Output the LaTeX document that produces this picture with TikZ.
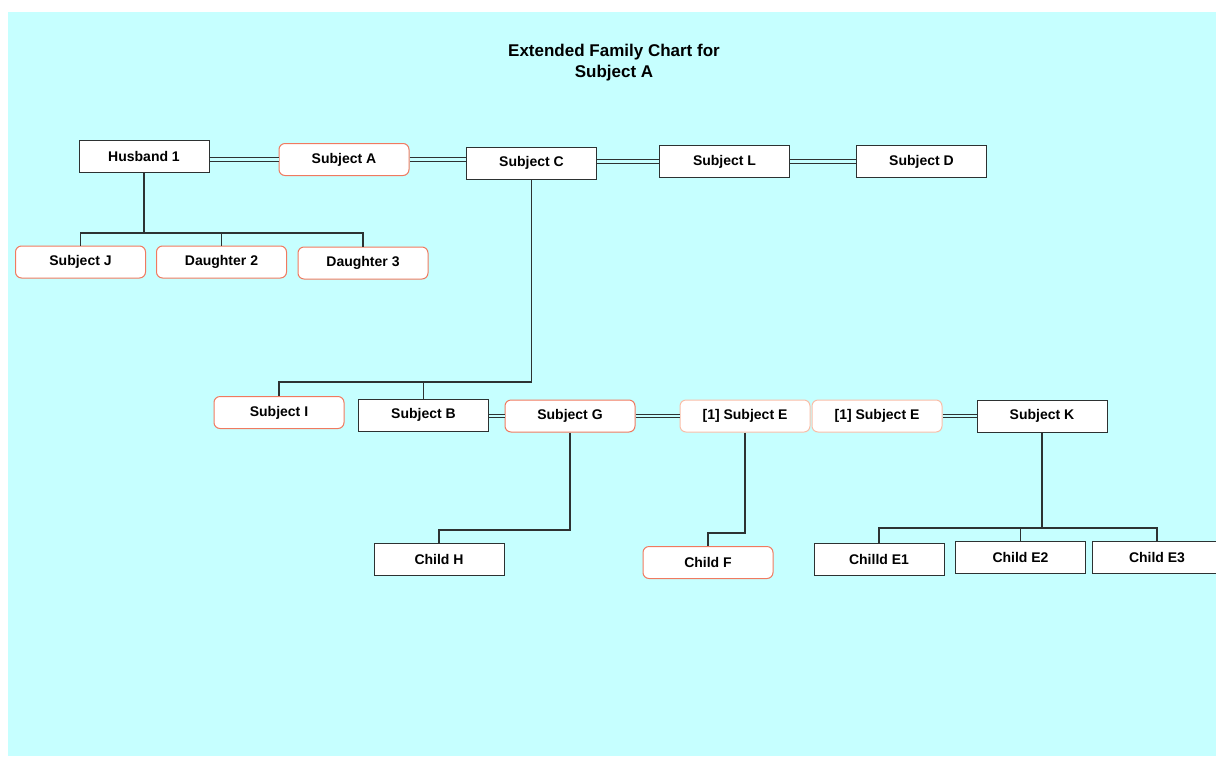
\documentclass[tikz,border=0pt]{standalone}
\usepackage{fontspec}
\setmainfont{Liberation Sans}
\usepackage{xcolor}
\definecolor{chartbg}{RGB}{198,255,255}
\definecolor{bloodline}{RGB}{240,122,96}
\definecolor{paleline}{RGB}{250,190,168}
\definecolor{linkgray}{RGB}{45,50,50}

\tikzset{
    member/.style={draw=linkgray, fill=white, line width=1pt, minimum width=130pt, minimum height=32pt,
        inner sep=0pt, font=\fontsize{14}{16}\selectfont\bfseries},
    blood/.style={member, draw=bloodline, rounded corners=6pt},
    pale/.style={member, draw=paleline, rounded corners=6pt},
    marriage/.style={draw=linkgray, double=chartbg, double distance=2.6pt, line width=0.9pt},
    descent/.style={draw=linkgray, line width=1.1pt}
}

\begin{document}
\begin{tikzpicture}[x=1pt,y=-1pt]
    	\useasboundingbox (0,0) rectangle (1216,756);
    	\fill[chartbg] (8,12) rectangle (1216,756);
    	\node[font=\fontsize{17}{21}\selectfont\bfseries, align=center] (title) at (614,63) {Extended Family Chart for\\Subject A};

    	% first generation
    	\node[member] (husband) at (144,156) {Husband 1};
    	\node[blood] (subjA) at (344,159.5) {Subject A};
    	\node[member] (subjC) at (531.5,163) {Subject C};
    	\node[member] (subjL) at (724.5,161.5) {Subject L};
    	\node[member] (subjD) at (921.5,161.5) {Subject D};

    	\node[blood] (subjJ) at (80.5,262) {Subject J};
    	\node[blood] (daughterB) at (221.5,262) {Daughter 2};
    	\node[blood] (daughterC) at (363,263) {Daughter 3};

    	% second generation
    	\node[blood] (subjI) at (279,412.5) {Subject I};
    	\node[member] (subjB) at (423.5,415) {Subject B};
    	\node[blood] (subjG) at (570,416) {Subject G};
    	\node[pale] (subjEa) at (745,416) {[1] Subject E};
    	\node[pale] (subjEb) at (877,416) {[1] Subject E};
    	\node[member] (subjK) at (1042,416) {Subject K};

    	% third generation
    	\node[member] (childH) at (439,559.5) {Child H};
    	\node[blood] (childF) at (708,562.5) {Child F};
    	\node[member] (childEa) at (879,559.5) {Chilld E1};
    	\node[member] (childEb) at (1020.5,557.5) {Child E2};
    	\node[member] (childEc) at (1157,557.5) {Child E3};

    	% marriages
    	\draw[marriage] (husband.east |- subjA.west) -- (subjA.west);
    	\draw[marriage] (subjA.east) -- (subjC.west |- subjA.east);
    	\draw[marriage] (subjC.east |- subjL.west) -- (subjL.west);
    	\draw[marriage] (subjL.east) -- (subjD.west);
    	\draw[marriage] (subjB.east |- subjG.west) -- (subjG.west);
    	\draw[marriage] (subjG.east) -- (subjEa.west);
    	\draw[marriage] (subjEb.east) -- (subjK.west);

    	% descent lines
    	\coordinate (busHusband) at (144,233);
    	\draw[descent] (husband.south) -- (busHusband);
    	\draw[descent] (subjJ.north) -- (subjJ.north |- busHusband) -- (daughterC.north |- busHusband) -- (daughterC.north);
    	\draw[descent] (daughterB.north) -- (daughterB.north |- busHusband);

    	\coordinate (busC) at (531.5,382);
    	\draw[descent] (subjC.south) -- (busC) -- (subjI.north |- busC) -- (subjI.north);
    	\draw[descent] (subjB.north) -- (subjB.north |- busC);

    	\coordinate (busG) at (570,530);
    	\draw[descent] (subjG.south) -- (busG) -| (childH.north);

    	\coordinate (busE) at (745,533);
    	\draw[descent] (subjEa.south) -- (busE) -| (childF.north);

    	\coordinate (busK) at (1042,528);
    	\draw[descent] (subjK.south) -- (busK);
    	\draw[descent] (childEa.north) -- (childEa.north |- busK) -- (childEc.north |- busK) -- (childEc.north);
    	\draw[descent] (childEb.north) -- (childEb.north |- busK);
\end{tikzpicture}
\end{document}
